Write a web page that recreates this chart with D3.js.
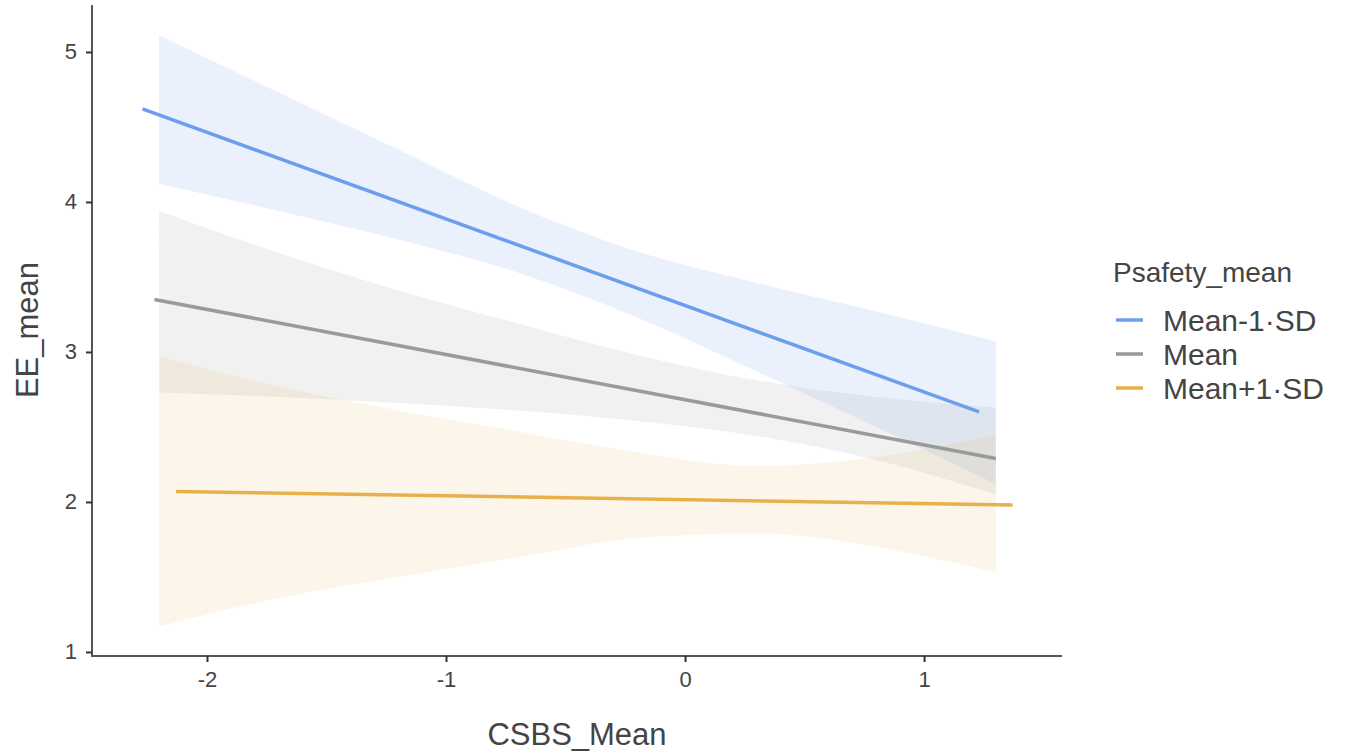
<!DOCTYPE html>
<html>
<head>
<meta charset="utf-8">
<script src="https://cdn.jsdelivr.net/npm/d3@7"></script>
<style>
  body { margin: 0; background: #fff; }
  text { font-family: "Liberation Sans", Arial, sans-serif; }
</style>
</head>
<body>
<script>
var W = 1351, H = 755;

// groups of the moderator
const groups = ["Mean-1·SD", "Mean", "Mean+1·SD"];
const colors = ["#6d9eeb", "#9a9a9a", "#e8b04b"];

// fitted lines: [start, end]
const lineX = [[-2.27, 1.23], [-2.22, 1.30], [-2.13, 1.37]];
const lineY = [[4.62, 2.60], [3.35, 2.29], [2.07, 1.98]];

// confidence bands
const bandX = [-2.2, -1.7, -1.2, -0.7, -0.2, 0.3, 0.8, 1.3];
const bandUpper = [
  [5.11, 4.73, 4.35, 3.97, 3.67, 3.46, 3.27, 3.07],
  [3.94, 3.66, 3.41, 3.19, 2.98, 2.81, 2.70, 2.63],
  [2.97, 2.77, 2.61, 2.47, 2.33, 2.24, 2.30, 2.45]
];
const bandLower = [
  [4.12, 3.94, 3.75, 3.53, 3.23, 2.87, 2.50, 2.12],
  [2.73, 2.70, 2.66, 2.61, 2.54, 2.44, 2.28, 2.05],
  [1.17, 1.36, 1.50, 1.63, 1.76, 1.79, 1.70, 1.53]
];

const xTicks = [-2, -1, 0, 1];
const yTicks = [1, 2, 3, 4, 5];

var svg = d3.select("body").append("svg")
  .attr("width", W).attr("height", H);

var x = d3.scaleLinear().domain([-2.481, 1.577]).range([92, 1062]);
var y = d3.scaleLinear().domain([0.973, 5.313]).range([656, 5]);

// bands
var area = d3.area()
  .x(d => x(d.x)).y0(d => y(d.lo)).y1(d => y(d.hi))
  .curve(d3.curveMonotoneX);

groups.forEach(function(g, i) {
  var pts = bandX.map((bx, j) => ({x: bx, lo: bandLower[i][j], hi: bandUpper[i][j]}));
  svg.append("path")
    .attr("d", area(pts))
    .style("fill", colors[i])
    .style("fill-opacity", i == 2 ? 0.12 : 0.14);
});

// lines
var line = d3.line().x(d => x(d[0])).y(d => y(d[1]));
groups.forEach(function(g, i) {
  svg.append("path")
    .attr("d", line([[lineX[i][0], lineY[i][0]], [lineX[i][1], lineY[i][1]]]))
    .style("fill", "none")
    .style("stroke", colors[i])
    .style("stroke-width", 3.5);
});

// axes (plain hyphen for negatives, like the original)
var fmt = d => String(d);
var xAxis = svg.append("g")
  .attr("transform", "translate(0,656)")
  .call(d3.axisBottom(x).tickValues(xTicks).tickFormat(fmt).tickSizeOuter(0).tickSize(6).tickPadding(9));
var yAxis = svg.append("g")
  .attr("transform", "translate(92,0)")
  .call(d3.axisLeft(y).tickValues(yTicks).tickFormat(fmt).tickSizeOuter(0).tickSize(6).tickPadding(9));

[xAxis, yAxis].forEach(function(a) {
  a.select(".domain").attr("stroke", "#555").attr("stroke-width", 2);
  a.selectAll(".tick line").attr("stroke", "#333").attr("stroke-width", 2);
  a.selectAll(".tick text").attr("fill", "#444").style("font-size", "22px")
    .style("font-family", "'Liberation Sans', Arial, sans-serif");
});
// extend axis lines to meet at the corner
xAxis.select(".domain").attr("d", "M92,0H1062");
yAxis.select(".domain").attr("d", "M0,5V657");

// axis titles
svg.append("text")
  .attr("x", 577).attr("y", 745)
  .attr("text-anchor", "middle")
  .style("font-size", "31px").style("fill", "#444")
  .text("CSBS_Mean");
svg.append("text")
  .attr("transform", "translate(38,330) rotate(-90)")
  .attr("text-anchor", "middle")
  .style("font-size", "31px").style("fill", "#444")
  .text("EE_mean");

// legend
var legend = svg.append("g").attr("transform", "translate(1113,0)");
legend.append("text")
  .attr("x", 0).attr("y", 282)
  .style("font-size", "28px").style("fill", "#444")
  .text("Psafety_mean");
var legY = [320, 354, 388];
groups.forEach(function(g, i) {
  legend.append("line")
    .attr("x1", 3).attr("x2", 30).attr("y1", legY[i]).attr("y2", legY[i])
    .style("stroke", colors[i]).style("stroke-width", 3.5);
  legend.append("text")
    .attr("x", 50).attr("y", legY[i]).attr("dy", "0.36em")
    .style("font-size", "30px").style("fill", "#444")
    .text(g);
});
</script>
</body>
</html>
